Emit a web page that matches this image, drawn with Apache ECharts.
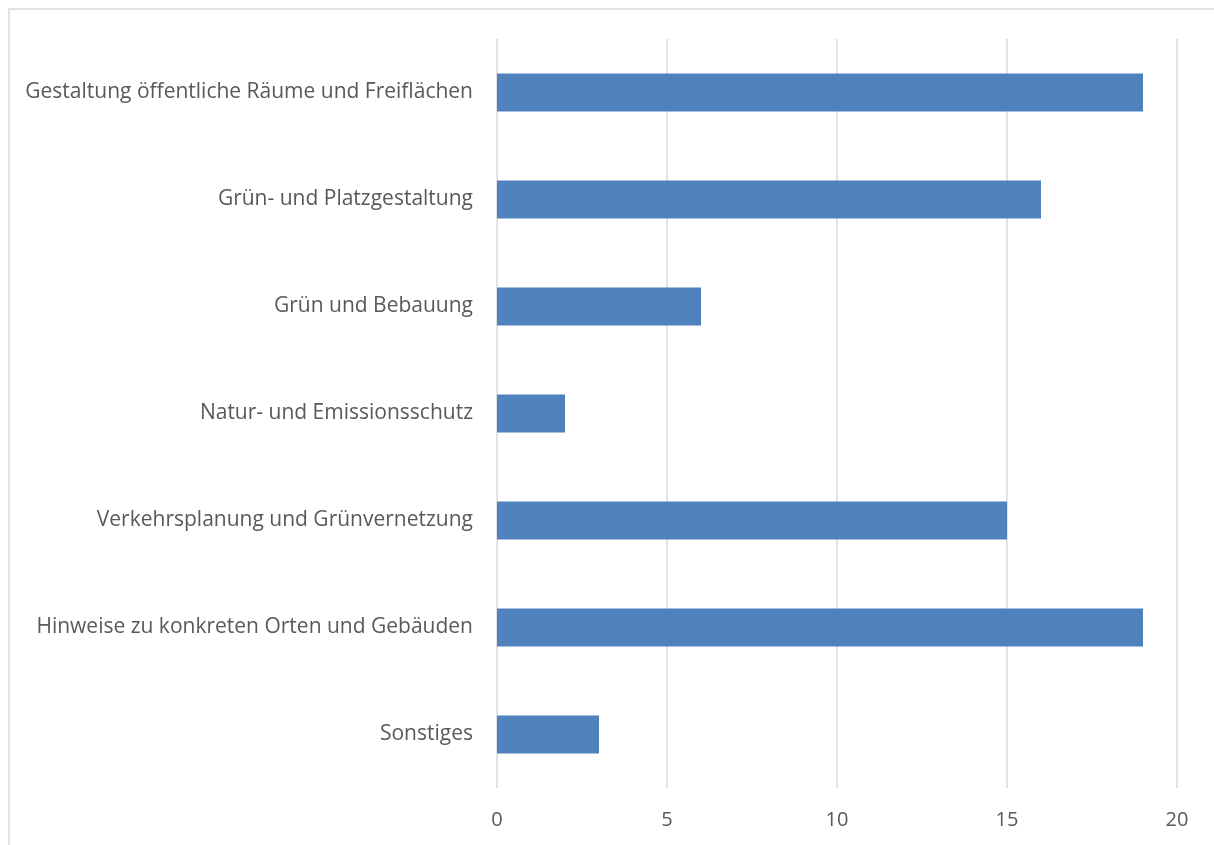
<!DOCTYPE html>
<html>
<head>
<meta charset="utf-8">
<script src="https://cdn.jsdelivr.net/npm/echarts@6/dist/echarts.min.js"></script>
<style>
  html, body { margin: 0; padding: 0; background: #fff; }
  #chart { width: 1214px; height: 845px; }
</style>
</head>
<body>
<div id="chart"></div>
<script>
// Themen der Rückmeldungen (top to bottom) and their counts
const categories = [
  'Gestaltung öffentliche Räume und Freiflächen',
  'Grün- und Platzgestaltung',
  'Grün und Bebauung',
  'Natur- und Emissionsschutz',
  'Verkehrsplanung und Grünvernetzung',
  'Hinweise zu konkreten Orten und Gebäuden',
  'Sonstiges'
];
const counts = [19, 16, 6, 2, 15, 19, 3];
const xMin = 0;
const xMax = 20;
const xStep = 5;

const chart = echarts.init(document.getElementById('chart'), null, { renderer: 'canvas' });
const textColor = '#595959';
const gridColor = '#d9d9d9';
const font = '"Open Sans", "Noto Sans", sans-serif';

chart.setOption({
  animation: false,
  backgroundColor: '#fff',
  textStyle: { fontFamily: font },
  grid: { left: 497, right: 37, top: 39, bottom: 57, containLabel: false },
  graphic: [{
    type: 'polyline',
    shape: { points: [[9, 845], [9, 9], [1214, 9]] },
    style: { stroke: gridColor, lineWidth: 1.5, fill: null },
    silent: true
  }],
  xAxis: {
    type: 'value',
    min: xMin,
    max: xMax,
    interval: xStep,
    axisLine: { show: false },
    axisTick: { show: false },
    splitLine: { show: true, lineStyle: { color: gridColor, width: 1.5 } },
    axisLabel: { color: textColor, fontSize: 20, fontFamily: font, margin: 22 }
  },
  yAxis: {
    type: 'category',
    data: categories,
    inverse: true,
    axisLine: { show: false },
    axisTick: { show: false },
    splitLine: { show: false },
    axisLabel: { color: textColor, fontSize: 21, fontFamily: font, margin: 24, padding: [2, 0, 0, 0] }
  },
  series: [{
    type: 'bar',
    data: counts,
    barWidth: '35.5%',
    itemStyle: { color: '#4f81bd' },
    silent: true
  }]
});
</script>
</body>
</html>
